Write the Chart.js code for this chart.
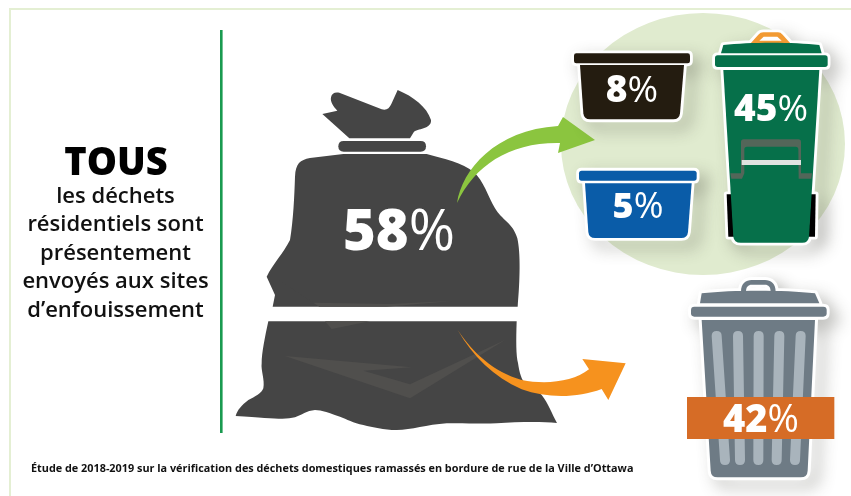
<!DOCTYPE html>
<html lang="fr">
<head>
<meta charset="utf-8">
<title>Déchets résidentiels</title>
<style>
  html, body { margin: 0; padding: 0; background: #fff; }
  canvas { display: block; }
</style>
<script src="https://cdn.jsdelivr.net/npm/chart.js@4"></script>
</head>
<body>
<canvas id="c" width="851" height="496"></canvas>
<script>
// Share of residential waste by destination stream
const streams = ['Sac à ordures', 'Bac noir', 'Bac bleu', 'Bac vert', 'Poubelle'];
const shares = [58, 8, 5, 45, 42];

const heading = 'TOUS';
const headingLines = ['les déchets', 'résidentiels sont', 'présentement', 'envoyés aux sites', 'd’enfouissement'];
const footnote = 'Étude de 2018-2019 sur la vérification des déchets domestiques ramassés en bordure de rue de la Ville d’Ottawa';

// Where each share label sits: centre x, baseline y, font size
const labelAnchors = [
  { x: 399, y: 250, size: 56 },
  { x: 632, y: 102, size: 37 },
  { x: 638, y: 218, size: 36 },
  { x: 771, y: 121, size: 37 },
  { x: 761, y: 432, size: 38 }
];

const FAMILY = '"Open Sans", "Noto Sans", sans-serif';

function shapes(list) { return list.map(d => new Path2D(d)); }

function roundRect(x, y, w, h, r) {
  return `M${x + r} ${y}H${x + w - r}Q${x + w} ${y} ${x + w} ${y + r}V${y + h - r}Q${x + w} ${y + h} ${x + w - r} ${y + h}H${x + r}Q${x} ${y + h} ${x} ${y + h - r}V${y + r}Q${x} ${y} ${x + r} ${y}Z`;
}

// Artwork in 3x local units, placed with a translate and a 1/3 scale
function local(ctx, ox, oy, draw) {
  ctx.save();
  ctx.translate(ox, oy);
  ctx.scale(1 / 3, 1 / 3);
  draw();
  ctx.restore();
}

// White keyline with a soft shadow, under an icon's solid parts
function keyline(ctx, paths, width) {
  const outline = new Path2D();
  paths.forEach(p => outline.addPath(p));
  ctx.save();
  ctx.lineJoin = 'round';
  ctx.lineWidth = width;
  ctx.strokeStyle = '#fff';
  ctx.fillStyle = '#fff';
  ctx.save();
  ctx.shadowColor = 'rgba(60,60,50,0.42)';
  ctx.shadowBlur = 16;
  ctx.shadowOffsetX = 8;
  ctx.shadowOffsetY = 7;
  ctx.stroke(outline);
  ctx.restore();
  ctx.fill(outline);
  ctx.restore();
}

function fillAll(ctx, color, paths) {
  ctx.fillStyle = color;
  paths.forEach(p => ctx.fill(p));
}

function drawFrame(ctx) {
  ctx.fillStyle = '#e4efd3';
  ctx.fillRect(9, 8, 842, 2);
  ctx.fillRect(9, 8, 2, 488);
  ctx.fillStyle = '#1a9a50';
  ctx.fillRect(220, 30, 2.6, 403);
  ctx.fillStyle = '#e0ebcf';
  ctx.beginPath();
  ctx.ellipse(703, 144, 142, 131, 0, 0, Math.PI * 2);
  ctx.fill();
}

function drawBag(ctx) {
  local(ctx, 230, 80, () => {
    fillAll(ctx, '#454545', shapes([
      'M277 102L322 92C310 80 300 65 303 52C305 40 315 35 328 38L455 88C470 92 478 85 484 72L503 30C550 50 590 80 603 120C605 145 570 145 552 155L540 175L358 175Z',
      roundRect(325, 183, 263, 32, 16),
      'M340 222L590 222C640 235 700 250 730 275C760 300 775 350 795 385C815 420 850 430 862 475C872 520 870 600 863 680L128 680L135 645L110 590C130 550 160 520 180 480C190 420 193 350 195 290C197 250 210 240 240 234Z',
      'M115 724L860 724C858 780 858 830 864 849C868 875 873 900 890 915C905 925 921 930 935 945C955 970 965 1000 981 1029C930 1024 860 1026 800 1030C740 1032 690 1028 650 1030C590 1034 545 1050 500 1050C460 1050 430 1042 400 1035C370 1028 350 1018 330 1010C300 1000 275 990 255 990C230 992 215 1005 195 1012C165 1020 130 1015 17 1008C22 990 35 975 55 960C75 950 95 940 100 925C105 900 92 870 95 850C95 820 105 770 115 724Z'
    ]));
    fillAll(ctx, '#504f4d', shapes([
      'M143 598L268 680L470 680L665 663L480 672L250 668Z',
      'M285 724L305 747L420 724Z',
      'M165 828L545 862L400 872L540 913L825 780L540 955Z'
    ]));
  });
}

function drawArrows(ctx) {
  ctx.fillStyle = '#8bc53f';
  ctx.fill(new Path2D('M457 203C462 170 495 130 558 126L563 117L595 140L558 153L560 143C510 142 475 165 457 203Z'));
  local(ctx, 450, 270, () => {
    ctx.fillStyle = '#f6921e';
    ctx.fill(new Path2D('M23 180C70 250 130 305 215 330C290 345 370 335 417 298L397 267L527 280L475 390L455 357C380 385 290 385 215 358C130 320 70 260 23 180Z'));
  });
}

function drawBlackBin(ctx) {
  const parts = shapes([
    roundRect(72, 160, 348, 30, 7),
    'M90 195L402 195L390 340Q388 358 370 358L120 358Q102 358 100 340Z'
  ]);
  keyline(ctx, parts, 17);
  fillAll(ctx, '#241c10', parts);
}

function drawBlueBin(ctx) {
  const parts = shapes([
    roundRect(87, 512, 353, 30, 8),
    'M105 550L425 550L414 696Q412 714 394 714L135 714Q117 714 115 696Z'
  ]);
  keyline(ctx, parts, 17);
  fillAll(ctx, '#0a5ca8', parts);
}

function drawGreenCart(ctx) {
  const wheels = shapes([
    'M530 583L545 583L552 710L535 710Z',
    'M783 583L797 583L795 710L775 710Z'
  ]);
  const handle = new Path2D('M600 132L625 104Q631 97 640 97L684 97Q692 97 698 104L723 132Z');
  const body = shapes([
    'M513 160L520 135C600 126 730 126 808 135L815 160Z',
    roundRect(495, 166, 338, 35, 8),
    'M520 210L808 210L777 710Q775 728 757 728L572 728Q552 728 550 710Z'
  ]);
  keyline(ctx, [...wheels, handle, ...body], 17);
  fillAll(ctx, '#000', wheels);
  ctx.fillStyle = '#f29a33';
  ctx.fill(handle);
  ctx.fillStyle = '#fff';
  ctx.fill(new Path2D('M628 122L641 110L682 110L695 122Z'));
  fillAll(ctx, '#06704a', body);
  fillAll(ctx, '#536659', shapes([
    'M573 426Q573 418 581 418L745 418Q753 418 753 426L753 520L786 520L784 536L746 536L745 448Q745 440 737 440L591 440Q583 440 583 448L583 520L576 536L544 536L541 520L573 520Z'
  ]));
  fillAll(ctx, '#e0e2e0', shapes(['M575 480L753 480L753 495L575 495Z']));
}

function drawTrash(ctx) {
  const body = shapes([
    'M750 100L755 70C850 60 1000 60 1095 70L1108 100Z',
    roundRect(723, 110, 407, 30, 10),
    'M755 150L1095 150L1073 602Q1072 622 1052 622L803 622Q783 622 782 602Z'
  ]);
  const ring = new Path2D('M873 65C873 40 888 30 905 30L945 30C962 30 977 40 977 65L962 65C962 50 955 44 945 44L905 44C895 44 888 50 888 65Z');
  keyline(ctx, [ring, ...body], 18);
  fillAll(ctx, '#6e7b85', [ring, ...body]);
  fillAll(ctx, '#a9b4bc', shapes([
    'M785 198Q785 183 800 183Q815 183 815 198L840 570Q840 585 825 585Q810 585 810 570Z',
    'M849 198Q849 183 864 183Q879 183 879 198L885 570Q885 585 870 585Q855 585 855 570Z',
    'M911 198Q911 183 926 183Q941 183 941 198L940 570Q940 585 925 585Q910 585 910 570Z',
    'M973 198Q973 183 988 183Q1003 183 1003 198L995 570Q995 585 980 585Q965 585 965 570Z',
    'M1037 198Q1037 183 1052 183Q1067 183 1067 198L1050 570Q1050 585 1035 585Q1020 585 1020 570Z'
  ]));
  ctx.fillStyle = '#d66c26';
  ctx.fillRect(711, 381, 442, 126);
}

// Background artwork, laid under the dataset
const artwork = {
  id: 'artwork',
  beforeDatasetsDraw(chart) {
    const ctx = chart.ctx;
    ctx.save();
    drawFrame(ctx);
    drawBag(ctx);
    drawArrows(ctx);
    local(ctx, 550, 0, () => {
      drawBlackBin(ctx);
      drawBlueBin(ctx);
      drawGreenCart(ctx);
    });
    local(ctx, 450, 270, () => drawTrash(ctx));
    ctx.restore();
  }
};

// Share labels: bold digits followed by a lighter percent sign
const shareLabels = {
  id: 'shareLabels',
  afterDatasetsDraw(chart) {
    const ctx = chart.ctx;
    const meta = chart.getDatasetMeta(0);
    const values = chart.data.datasets[0].shares;
    ctx.save();
    ctx.fillStyle = '#fff';
    ctx.textBaseline = 'alphabetic';
    ctx.textAlign = 'left';
    meta.data.forEach((pt, i) => {
      const size = labelAnchors[i].size;
      const digits = String(values[i]);
      ctx.font = `800 ${size}px ${FAMILY}`;
      const dw = ctx.measureText(digits).width;
      ctx.font = `400 ${size}px ${FAMILY}`;
      const pw = ctx.measureText('%').width;
      const left = pt.x - (dw + pw) / 2;
      ctx.font = `800 ${size}px ${FAMILY}`;
      ctx.fillText(digits, left, pt.y);
      ctx.font = `400 ${size}px ${FAMILY}`;
      ctx.fillText('%', left + dw, pt.y);
    });
    ctx.restore();
  }
};

// Left-hand statement and the source line
const captions = {
  id: 'captions',
  afterDraw(chart) {
    const ctx = chart.ctx;
    ctx.save();
    ctx.fillStyle = '#000';
    ctx.textBaseline = 'alphabetic';
    ctx.textAlign = 'center';
    ctx.font = `800 38px ${FAMILY}`;
    ctx.fillText(heading, 116, 175);
    ctx.fillStyle = '#111';
    ctx.font = `600 22px ${FAMILY}`;
    headingLines.forEach((line, i) => ctx.fillText(line, 115.5, 203 + i * 28.4));
    ctx.textAlign = 'left';
    ctx.font = `700 10.85px ${FAMILY}`;
    ctx.fillText(footnote, 31, 472);
    ctx.restore();
  }
};

new Chart(document.getElementById('c'), {
  type: 'scatter',
  data: {
    labels: streams,
    datasets: [{
      label: 'Part des déchets (%)',
      shares: shares,
      data: labelAnchors.map(a => ({ x: a.x, y: a.y })),
      pointRadius: 0,
      pointHoverRadius: 0
    }]
  },
  options: {
    responsive: false,
    animation: false,
    layout: { padding: 0 },
    plugins: { legend: { display: false }, tooltip: { enabled: false } },
    scales: {
      x: { type: 'linear', min: 0, max: 851, display: false },
      y: { type: 'linear', min: 0, max: 496, reverse: true, display: false }
    }
  },
  plugins: [artwork, shareLabels, captions]
});
</script>
</body>
</html>
